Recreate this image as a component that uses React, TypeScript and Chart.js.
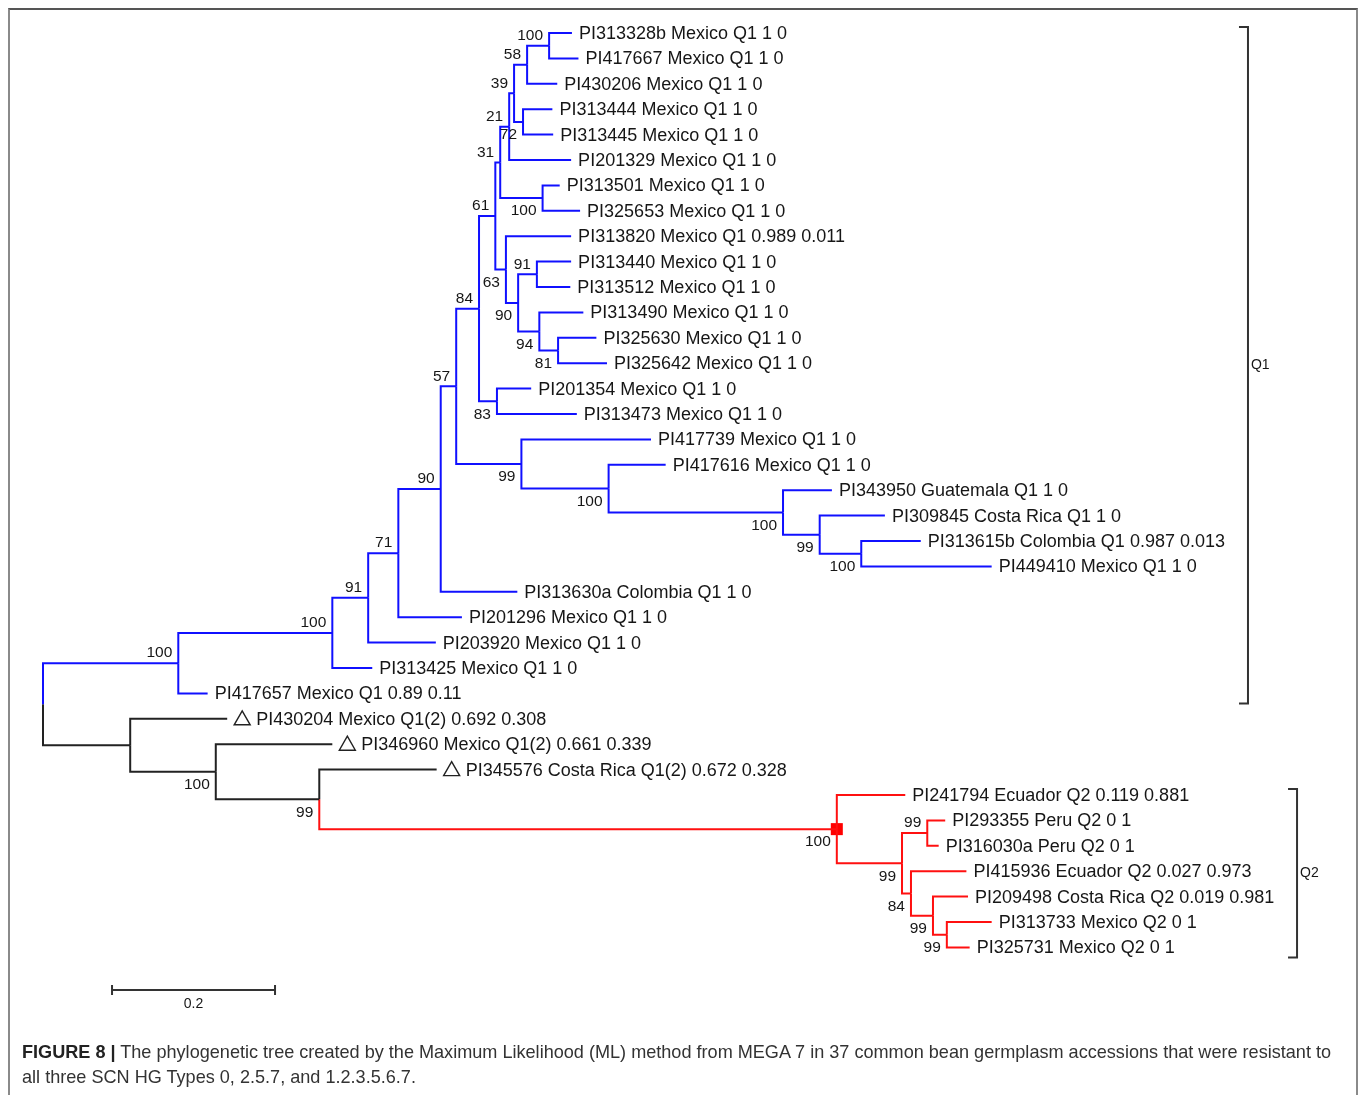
import React, { useEffect, useRef } from "react";
import { Chart, registerables } from "chart.js";
Chart.register(...registerables);

// ---- Tree data (distances from root, substitutions/site) ----
const leafLabels = [
  "PI313328b Mexico Q1 1 0",
  "PI417667 Mexico Q1 1 0",
  "PI430206 Mexico Q1 1 0",
  "PI313444 Mexico Q1 1 0",
  "PI313445 Mexico Q1 1 0",
  "PI201329 Mexico Q1 1 0",
  "PI313501 Mexico Q1 1 0",
  "PI325653 Mexico Q1 1 0",
  "PI313820 Mexico Q1 0.989 0.011",
  "PI313440 Mexico Q1 1 0",
  "PI313512 Mexico Q1 1 0",
  "PI313490 Mexico Q1 1 0",
  "PI325630 Mexico Q1 1 0",
  "PI325642 Mexico Q1 1 0",
  "PI201354 Mexico Q1 1 0",
  "PI313473 Mexico Q1 1 0",
  "PI417739 Mexico Q1 1 0",
  "PI417616 Mexico Q1 1 0",
  "PI343950 Guatemala Q1 1 0",
  "PI309845 Costa Rica Q1 1 0",
  "PI313615b Colombia Q1 0.987 0.013",
  "PI449410 Mexico Q1 1 0",
  "PI313630a Colombia Q1 1 0",
  "PI201296 Mexico Q1 1 0",
  "PI203920 Mexico Q1 1 0",
  "PI313425 Mexico Q1 1 0",
  "PI417657 Mexico Q1 0.89 0.11",
  "PI430204 Mexico Q1(2) 0.692 0.308",
  "PI346960 Mexico Q1(2) 0.661 0.339",
  "PI345576 Costa Rica Q1(2) 0.672 0.328",
  "PI241794 Ecuador Q2 0.119 0.881",
  "PI293355 Peru Q2 0 1",
  "PI316030a Peru Q2 0 1",
  "PI415936 Ecuador Q2 0.027 0.973",
  "PI209498 Costa Rica Q2 0.019 0.981",
  "PI313733 Mexico Q2 0 1",
  "PI325731 Mexico Q2 0 1",
];

const leafDepths = [
  0.649, 0.657, 0.631, 0.625, 0.626, 0.648, 0.634, 0.659, 0.648, 0.648,
  0.647, 0.663, 0.679, 0.692, 0.599, 0.655, 0.746, 0.764, 0.968, 1.033,
  1.077, 1.164, 0.582, 0.514, 0.482, 0.404, 0.202, 0.226, 0.355, 0.483,
  1.058, 1.107, 1.099, 1.133, 1.135, 1.164, 1.137,
];

// internal node index that each leaf hangs from
const leafParents = [
  13, 13, 12, 14, 14, 10, 15, 15, 16, 18, 18, 19, 20, 20, 21, 21, 22, 23, 24, 25,
  26, 26, 5, 4, 3, 2, 1, 27, 28, 29, 30, 32, 32, 33, 34, 35, 35,
];

const nodeDepths = [
  0, 0.166, 0.355, 0.399, 0.436, 0.488, 0.507, 0.535, 0.555, 0.561,
  0.572, 0.578, 0.594, 0.621, 0.589, 0.613, 0.568, 0.583, 0.606, 0.609,
  0.632, 0.557, 0.587, 0.694, 0.908, 0.953, 1.004, 0.107, 0.212, 0.339,
  0.974, 1.054, 1.085, 1.065, 1.092, 1.109,
];

const nodeParents = [
  -1, 0, 1, 2, 3, 4, 5, 6, 7, 8,
  9, 10, 11, 12, 11, 9, 8, 16, 17, 17,
  19, 7, 6, 22, 23, 24, 25, 0, 27, 28,
  29, 30, 31, 31, 33, 34,
];

const nodeSupports: (number | null)[] = [
  null, 100, 100, 91, 71, 90, 57, 84, 61, 31,
  21, 39, 58, 100, 72, 100, 63, 90, 91, 94,
  81, 83, 99, 100, 100, 99, 100, null, 100, 99,
  100, 99, 99, 84, 99, 99,
];

const triangleLeaves = [28, 29, 30];
const q1CladeNode = 1;
const q2CladeNode = 30;
const bracketLabels = ["Q1", "Q2"];
const bracketFirstLeaf = [1, 31];
const bracketLastLeaf = [27, 37];
const scaleBarLength = 0.2;
const scaleBarLabel = "0.2";
const captionBold = "FIGURE 8 |";
const captionLine1 =
  " The phylogenetic tree created by the Maximum Likelihood (ML) method from MEGA 7 in 37 common bean germplasm accessions that were resistant to";
const captionLine2 = "all three SCN HG Types 0, 2.5.7, and 1.2.3.5.6.7.";

// ---- layout / style constants ----
const W = 1358;
const H = 1095;
const PX_PER_UNIT = 815;
const ROOT_PX = 43;
const LEAF_TOP_PX = 33;
const LEAF_STEP_PX = 25.4;
const BLUE = "#1010ff";
const RED = "#ff1010";
const BLACK = "#222222";
const TEXT = "#161616";
const FONT = '"Liberation Sans", Arial, sans-serif';
const bracketXUnits = [1.4785, 1.5387];
const scaleBarStartUnits = 0.0847;
const scaleBarY = 38.68;

// ---- derived tree layout ----
type Kid = { leaf: boolean; idx: number };
const kids: Kid[][] = nodeDepths.map(() => []);
leafParents.forEach((p, i) => kids[p].push({ leaf: true, idx: i }));
nodeParents.forEach((p, j) => {
  if (p >= 0) kids[p].push({ leaf: false, idx: j });
});
const nodeY: number[] = nodeDepths.map(() => NaN);
function kidY(k: Kid): number {
  return k.leaf ? k.idx + 1 : getNodeY(k.idx);
}
function getNodeY(j: number): number {
  if (!isNaN(nodeY[j])) return nodeY[j];
  const ys = kids[j].map(kidY);
  nodeY[j] = (Math.min(...ys) + Math.max(...ys)) / 2;
  return nodeY[j];
}
nodeDepths.forEach((_, j) => getNodeY(j));

function inSubtree(nodeIdx: number, anc: number): boolean {
  let n = nodeIdx;
  while (n >= 0) {
    if (n === anc) return true;
    n = nodeParents[n];
  }
  return false;
}
function colorFor(p: number, selfNode: number | null): string {
  const n = selfNode !== null ? selfNode : p;
  if (inSubtree(n, q2CladeNode)) return RED;
  if (inSubtree(n, q1CladeNode)) return BLUE;
  return BLACK;
}

function buildDatasets() {
  const ds: any[] = [];
  const edge = (p: number, x: number, y: number, color: string) => {
    ds.push({
      data: [
        { x: nodeDepths[p], y: nodeY[p] },
        { x: nodeDepths[p], y },
        { x, y },
      ],
      showLine: true,
      borderColor: color,
      borderWidth: 2,
      pointRadius: 0,
      pointHoverRadius: 0,
      fill: false,
      borderJoinStyle: "miter",
    });
  };
  nodeParents.forEach((p, j) => {
    if (p < 0) return;
    edge(p, nodeDepths[j], nodeY[j], colorFor(p, j));
  });
  leafParents.forEach((p, i) => {
    edge(p, leafDepths[i], i + 1, colorFor(p, null));
  });
  ds.push({
    data: [{ x: nodeDepths[q2CladeNode], y: nodeY[q2CladeNode] }],
    showLine: false,
    pointStyle: "rect",
    pointRadius: 8.5,
    pointHoverRadius: 8.5,
    backgroundColor: "#ff0000",
    borderColor: "#ff0000",
    borderWidth: 0,
  });
  return ds;
}

const treeText = {
  id: "treeText",
  afterDatasetsDraw(chart: any) {
    const { ctx } = chart;
    const xs = chart.scales.x;
    const ys = chart.scales.y;
    ctx.save();
    // leaf labels
    ctx.font = `18px ${FONT}`;
    ctx.fillStyle = TEXT;
    ctx.textBaseline = "middle";
    ctx.textAlign = "left";
    leafLabels.forEach((lab, i) => {
      let px = xs.getPixelForValue(leafDepths[i]) + 7;
      const py = ys.getPixelForValue(i + 1);
      if (triangleLeaves.includes(i + 1)) {
        ctx.beginPath();
        ctx.moveTo(px + 8, py - 8);
        ctx.lineTo(px + 16, py + 6);
        ctx.lineTo(px, py + 6);
        ctx.closePath();
        ctx.lineWidth = 1.4;
        ctx.strokeStyle = "#222";
        ctx.stroke();
        px += 22;
      }
      ctx.fillText(lab, px, py + 1);
    });
    // bootstrap values
    ctx.font = `15.5px ${FONT}`;
    ctx.textAlign = "right";
    nodeSupports.forEach((s, j) => {
      if (s === null) return;
      const p = nodeParents[j];
      const px = xs.getPixelForValue(nodeDepths[j]) - 6;
      const py = ys.getPixelForValue(nodeY[j]);
      const upper = nodeY[j] < nodeY[p];
      ctx.fillText(String(s), px, upper ? py - 10 : py + 13);
    });
    // clade brackets
    ctx.strokeStyle = "#333";
    ctx.lineWidth = 2;
    ctx.font = `14px ${FONT}`;
    ctx.textAlign = "left";
    bracketLabels.forEach((lab, k) => {
      const bx = xs.getPixelForValue(bracketXUnits[k]);
      const top = ys.getPixelForValue(bracketFirstLeaf[k]) - 6;
      const bot = ys.getPixelForValue(bracketLastLeaf[k]) + 10;
      ctx.beginPath();
      ctx.moveTo(bx - 9, top);
      ctx.lineTo(bx, top);
      ctx.lineTo(bx, bot);
      ctx.lineTo(bx - 9, bot);
      ctx.stroke();
      ctx.fillText(lab, bx + 3, (top + bot) / 2);
    });
    // scale bar
    const sx0 = xs.getPixelForValue(scaleBarStartUnits);
    const sx1 = xs.getPixelForValue(scaleBarStartUnits + scaleBarLength);
    const sy = ys.getPixelForValue(scaleBarY);
    ctx.beginPath();
    ctx.moveTo(sx0, sy);
    ctx.lineTo(sx1, sy);
    ctx.moveTo(sx0, sy - 5);
    ctx.lineTo(sx0, sy + 5);
    ctx.moveTo(sx1, sy - 5);
    ctx.lineTo(sx1, sy + 5);
    ctx.stroke();
    ctx.textAlign = "center";
    ctx.fillText(scaleBarLabel, (sx0 + sx1) / 2, sy + 14);
    ctx.restore();
  },
};

export default function App() {
  const ref = useRef<HTMLCanvasElement | null>(null);
  useEffect(() => {
    document.body.style.margin = "0";
    if (!ref.current) return;
    const chart = new Chart(ref.current, {
      type: "scatter",
      data: { datasets: buildDatasets() },
      options: {
        animation: false,
        responsive: false,
        events: [],
        layout: { padding: 0, autoPadding: false },
        plugins: { legend: { display: false }, tooltip: { enabled: false } },
        scales: {
          x: {
            type: "linear",
            display: false,
            min: -ROOT_PX / PX_PER_UNIT,
            max: (W - ROOT_PX) / PX_PER_UNIT,
          },
          y: {
            type: "linear",
            display: false,
            reverse: true,
            min: 1 - LEAF_TOP_PX / LEAF_STEP_PX,
            max: 1 + (H - LEAF_TOP_PX) / LEAF_STEP_PX,
          },
        },
      },
      plugins: [treeText],
    });
    return () => chart.destroy();
  }, []);
  return (
    <div style={{ position: "absolute", left: 0, top: 0, width: W, height: H, overflow: "hidden", background: "#fff" }}>
      <canvas ref={ref} width={W} height={H} style={{ position: "absolute", left: 0, top: 0, width: W, height: H }} />
      <div
        style={{
          position: "absolute",
          left: 8,
          top: 8,
          width: 1346,
          height: 1200,
          borderTop: "2px solid #555",
          borderLeft: "2px solid #8a8a8a",
          borderRight: "2px solid #8a8a8a",
          pointerEvents: "none",
        }}
      />
      <div
        style={{
          position: "absolute",
          left: 22,
          top: 1040,
          width: 1330,
          fontFamily: FONT,
          fontSize: 18.1,
          lineHeight: "25px",
          color: "#333",
          whiteSpace: "nowrap",
        }}
      >
        <b style={{ color: "#222" }}>{captionBold}</b>
        {captionLine1}
        <br />
        {captionLine2}
      </div>
    </div>
  );
}
